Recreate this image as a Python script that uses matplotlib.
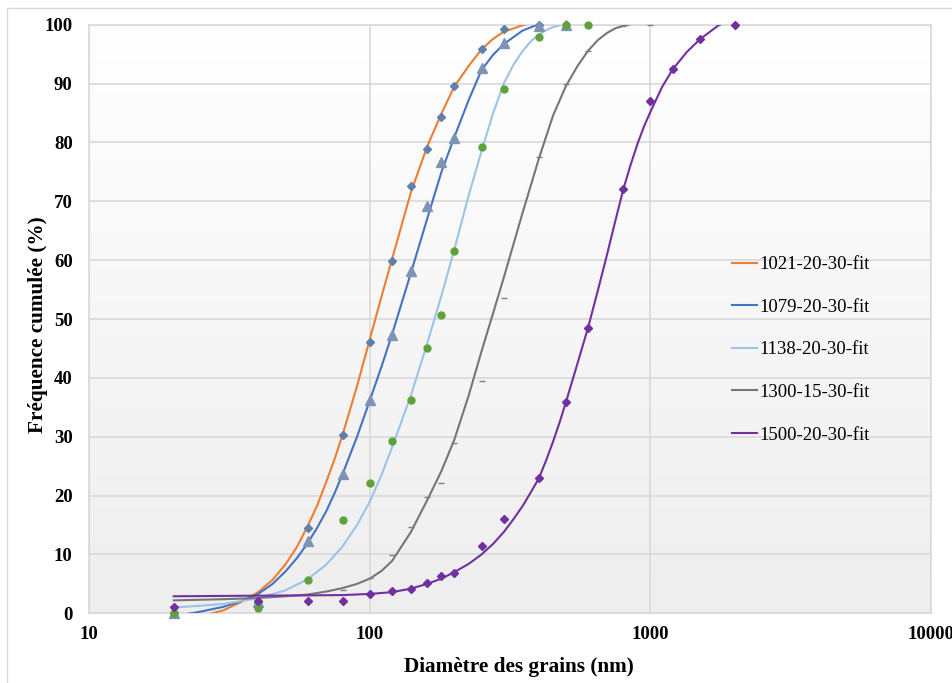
import numpy as np
import matplotlib.pyplot as plt
from matplotlib.colors import LinearSegmentedColormap
from matplotlib.patches import Rectangle

plt.rcParams['font.family'] = ['Liberation Serif', 'DejaVu Serif']

# diamètres mesurés (nm)
diam = [20, 40, 60, 80, 100, 120, 140, 160, 180, 200, 250, 300, 400, 500, 600, 800, 1000, 1200, 1500, 2000]

# points expérimentaux (fréquence cumulée, %)
y_1021 = [0, 2.0, 14.5, 30.3, 46.1, 59.9, 72.6, 78.9, 84.4, 89.6, 95.9, 99.2, 100]
y_1079 = [0, 2.0, 12.3, 23.7, 36.3, 47.3, 58.2, 69.2, 76.7, 80.8, 92.6, 96.9, 99.7, 100]
y_1138 = [0, 0.85, 5.7, 15.9, 22.2, 29.3, 36.3, 45.1, 50.7, 61.6, 79.3, 89.1, 97.9, 100, 100]
x_1300 = [80, 100, 120, 140, 160, 180, 200, 250, 300, 400, 500, 600, 800, 1000]
y_1300 = [4.0, 6.0, 9.9, 14.6, 19.8, 22.1, 29.0, 39.5, 53.6, 77.6, 89.9, 95.6, 99.8, 100]
y_1500 = [1.07, 2.1, 2.1, 2.1, 3.2, 3.85, 4.2, 5.15, 6.3, 6.9, 11.5, 16.0, 23.0, 35.9, 48.4,
          72.1, 87.1, 92.4, 97.5, 100]

# courbes d'ajustement
fx_1021 = [20, 25, 30, 35, 40, 45, 50, 55, 60, 65, 70, 75, 80, 90, 100, 110, 120, 140, 160, 180, 200,
           225, 250, 275, 300, 350, 380]
fy_1021 = [-1.3, -0.5, 0.5, 2.0, 3.6, 5.7, 8.3, 11.3, 14.8, 18.4, 22.4, 26.3, 30.4, 38.6, 46.6, 53.8,
           60.2, 71.5, 79.3, 84.9, 89.5, 93.0, 95.8, 97.6, 98.8, 99.9, 100.4]
fx_1079 = [20, 25, 30, 35, 40, 45, 50, 55, 60, 65, 70, 75, 80, 90, 100, 110, 120, 140, 160, 180, 200,
           225, 250, 275, 300, 350, 410]
fy_1079 = [-0.5, 0.3, 1.1, 2.1, 3.3, 5.0, 7.1, 9.4, 11.9, 14.6, 17.4, 20.5, 23.7, 30.0, 36.2, 41.9,
           47.4, 57.8, 67.0, 75.0, 80.9, 87.2, 92.3, 94.9, 96.7, 99.0, 100.3]
fx_1138 = [20, 25, 30, 35, 40, 50, 60, 70, 80, 90, 100, 110, 120, 140, 160, 180, 200, 225, 250, 275, 300,
           325, 350, 375, 400, 425, 450, 500]
fy_1138 = [1.0, 1.3, 1.6, 2.1, 2.6, 3.9, 5.8, 8.3, 11.4, 15.0, 19.0, 23.5, 28.2, 37.0, 45.8, 54.0, 61.8,
           71.0, 78.5, 85.0, 90.0, 93.2, 95.5, 97.2, 98.3, 99.1, 99.6, 100.2]
fx_1300 = [20, 30, 40, 50, 60, 70, 80, 90, 100, 110, 120, 140, 160, 180, 200, 225, 250, 275, 300, 350, 400,
           450, 500, 550, 600, 650, 700, 750, 800, 850]
fy_1300 = [2.2, 2.4, 2.6, 2.9, 3.2, 3.7, 4.3, 5.0, 5.9, 7.2, 8.9, 13.8, 19.2, 24.2, 29.5, 37.0, 44.5, 51.0,
           57.0, 68.0, 77.2, 84.6, 89.6, 93.0, 95.6, 97.4, 98.6, 99.4, 99.8, 100.1]
fx_1500 = [20, 40, 60, 80, 100, 120, 140, 160, 180, 200, 225, 250, 275, 300, 325, 350, 375, 400, 425, 450,
           475, 500, 550, 600, 650, 700, 750, 800, 850, 900, 950, 1000, 1100, 1200, 1350, 1500, 1650,
           1750, 1850]
fy_1500 = [2.9, 3.0, 3.05, 3.1, 3.3, 3.6, 4.2, 5.0, 5.9, 7.0, 8.4, 10.0, 11.8, 13.8, 16.0, 18.2, 20.6,
           22.9, 26.0, 29.2, 32.5, 35.9, 42.5, 48.6, 54.9, 60.9, 66.7, 72.0, 76.2, 79.8, 82.8, 85.2, 89.4,
           92.4, 95.4, 97.5, 99.0, 99.9, 100.4]

labels = ['1021-20-30-fit', '1079-20-30-fit', '1138-20-30-fit', '1300-15-30-fit', '1500-20-30-fit']
line_colors = ['#ed7d31', '#4472c4', '#9dc3e6', '#767676', '#7030a0']

fig = plt.figure(figsize=(9.53, 6.83), dpi=100)
pos = [0.0937, 0.1020, 0.8832, 0.8618]

# fond dégradé de la zone de tracé
bg = fig.add_axes(pos, zorder=0)
cmap = LinearSegmentedColormap.from_list('fond', ['#eeeeee', '#ffffff'])
bg.imshow(np.linspace(1, 0, 256).reshape(-1, 1), cmap=cmap, aspect='auto', extent=[0, 1, 0, 1])
bg.axis('off')

ax = fig.add_axes(pos, zorder=1)
ax.set_facecolor('none')
ax.set_xscale('log')

fits = [(fx_1021, fy_1021), (fx_1079, fy_1079), (fx_1138, fy_1138), (fx_1300, fy_1300), (fx_1500, fy_1500)]
for (fx, fy), c, lab in zip(fits, line_colors, labels):
    ax.plot(fx, fy, color=c, lw=1.5, label=lab, zorder=3)

ax.plot(diam[:len(y_1021)], y_1021, ls='none', marker='D', ms=4, color='#5f80ad', clip_on=False, zorder=4)
ax.plot(diam[:len(y_1079)], y_1079, ls='none', marker='^', ms=6.5, color='#8093b3', clip_on=False, zorder=4)
ax.plot(diam[:len(y_1138)], y_1138, ls='none', marker='o', ms=5, color='#5fa23a', clip_on=False, zorder=4)
ax.plot(x_1300, y_1300, ls='none', marker='_', ms=4, mew=1, color='#7f7f7f', clip_on=False, zorder=4)
ax.plot(diam, y_1500, ls='none', marker='D', ms=4, color='#7030a0', clip_on=False, zorder=4)

ax.set_xlim(10, 10000)
ax.set_ylim(0, 100)
ax.set_xticks([10, 100, 1000, 10000])
ax.set_xticklabels(['10', '100', '1000', '10000'])
ax.xaxis.set_minor_locator(plt.NullLocator())
ax.set_yticks(range(0, 101, 10))
ax.tick_params(length=0, labelsize=13.5)
ax.tick_params(axis='y', pad=12)
ax.tick_params(axis='x', pad=9)
for t in ax.get_xticklabels() + ax.get_yticklabels():
    t.set_fontweight('bold')

ax.grid(True, color='#d9d9d9', lw=1.2)
ax.set_axisbelow(True)
for s in ax.spines.values():
    s.set_color('#d9d9d9')
    s.set_linewidth(1.2)

ax.set_xlabel('Diamètre des grains (nm)', fontsize=15.3, fontweight='bold')
ax.set_ylabel('Fréquence cumulée (%)', fontsize=15.3, fontweight='bold')
ax.xaxis.set_label_coords(0.51, -0.075)
ax.yaxis.set_label_coords(-0.0496, 0.49)

fig.legend(loc='upper left', bbox_to_anchor=(732 / 953, 1 - 256 / 683), frameon=False,
           fontsize=13.5, handlelength=1.35, handletextpad=0.1, labelspacing=1.36,
           borderpad=0, borderaxespad=0)

# bordure du graphique
fig.add_artist(Rectangle((7 / 953, -0.1), 1.2, 1.1 - 8 / 683, transform=fig.transFigure,
                         fill=False, ec='#d9d9d9', lw=1))

fig.savefig('out.png', dpi=100)
